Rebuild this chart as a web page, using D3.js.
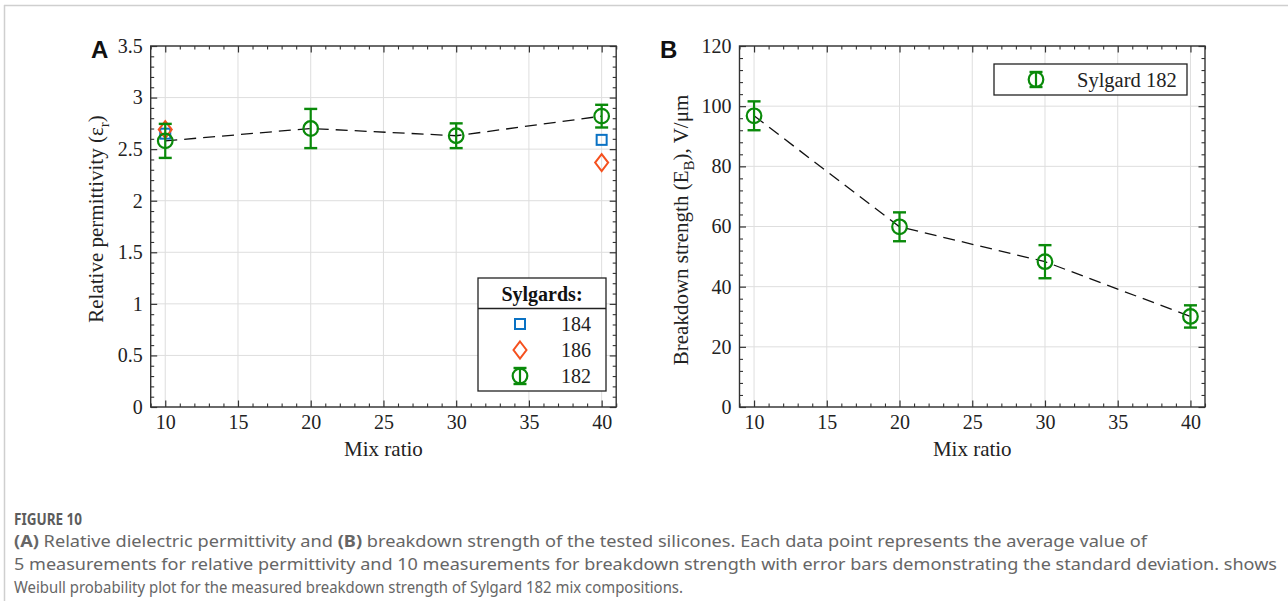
<!DOCTYPE html>
<html>
<head>
<meta charset="utf-8">
<script src="https://cdn.jsdelivr.net/npm/d3@7.9.0/dist/d3.min.js"></script>
<style>
  body { margin: 0; background: #fff; }
  svg { display: block; }
  .tick text { font-family: "Liberation Serif", "Times New Roman", serif; font-size: 20px; fill: #222; }
</style>
</head>
<body>
<svg id="chart" width="1288" height="601"></svg>
<script>
// data
const mixTicks = [10, 15, 20, 25, 30, 35, 40];
const mixRatio = [10, 20, 30, 40];
const perm182 = [2.58, 2.70, 2.63, 2.82];
const perm182Err = [0.165, 0.19, 0.12, 0.11];
const sideRatio = [10, 40];
const perm184 = [2.65, 2.59];
const perm186 = [2.69, 2.37];
const permTicks = [0, 0.5, 1, 1.5, 2, 2.5, 3, 3.5];
const breakdown182 = [96.8, 59.9, 48.3, 30.1];
const breakdown182Err = [4.8, 4.8, 5.5, 3.7];
const breakdownTicks = [0, 20, 40, 60, 80, 100, 120];
const captionLines = [
  [["(A)", true], [" Relative dielectric permittivity and ", false], ["(B)", true], [" breakdown strength of the tested silicones. Each data point represents the average value of", false]],
  [["5 measurements for relative permittivity and 10 measurements for breakdown strength with error bars demonstrating the standard deviation. shows", false]],
  [["Weibull probability plot for the measured breakdown strength of Sylgard 182 mix compositions.", false]]
];

const green = '#0a8a0a', blue = '#0a72c4', orange = '#f5501e';
const serif = '"Liberation Serif", "Times New Roman", serif';
const svg = d3.select('#chart');

// frame of the figure box
svg.append('line').attr('x1', 4).attr('x2', 1288).attr('y1', 5.5).attr('y2', 5.5).attr('stroke', '#cfcfcf').attr('stroke-width', 1.5);
svg.append('line').attr('x1', 4.5).attr('x2', 4.5).attr('y1', 5).attr('y2', 601).attr('stroke', '#cfcfcf').attr('stroke-width', 1.5);

function panel(opt) {
  const g = svg.append('g');
  const x = d3.scaleLinear().domain([9, 41]).range([opt.left, opt.left + 465.5]);
  const y = d3.scaleLinear().domain(opt.yDomain).range([407, 46]);
  const [x0, x1] = x.range();
  const [y0, y1] = y.range();

  // grid
  g.append('g').selectAll('line').data(mixTicks).join('line')
    .attr('x1', d => x(d)).attr('x2', d => x(d)).attr('y1', y0).attr('y2', y1)
    .attr('stroke', '#dedede').attr('stroke-width', 1);
  g.append('g').selectAll('line').data(opt.yTicks).join('line')
    .attr('x1', x0).attr('x2', x1).attr('y1', d => y(d)).attr('y2', d => y(d))
    .attr('stroke', '#dedede').attr('stroke-width', 1);

  // axes, ticks pointing inward on all sides
  const xMinor = d3.range(9, 42, 1).filter(d => !mixTicks.includes(d));
  const yMinor = d3.range(opt.yDomain[0], opt.yDomain[1] + 1e-9, opt.yMinorStep)
    .filter(d => !opt.yTicks.some(t => Math.abs(t - d) < 1e-6));
  const axes = [
    [d3.axisBottom, x, y0, 0, mixTicks, xMinor, true],
    [d3.axisTop, x, y1, 0, mixTicks, xMinor, false],
    [d3.axisLeft, y, 0, x0, opt.yTicks, yMinor, true],
    [d3.axisRight, y, 0, x1, opt.yTicks, yMinor, false]
  ];
  axes.forEach(([fn, sc, ty, tx, major, minor, labels]) => {
    const a = g.append('g').attr('transform', `translate(${tx},${ty})`)
      .call(fn(sc).tickValues(major).tickSize(-6.5).tickPadding(labels ? 8 : 0)
        .tickFormat(labels ? d3.format('') : ''));
    a.select('.domain').remove();
    a.selectAll('.tick line').attr('stroke', '#333').attr('stroke-width', 1.2);
    const m = g.append('g').attr('transform', `translate(${tx},${ty})`)
      .call(fn(sc).tickValues(minor).tickSize(-3.5).tickFormat(''));
    m.select('.domain').remove();
    m.selectAll('.tick line').attr('stroke', '#333').attr('stroke-width', 1.1);
  });
  g.selectAll('.tick text').attr('fill', '#222');

  g.append('rect').attr('x', x0).attr('y', y1).attr('width', x1 - x0).attr('height', y0 - y1)
    .attr('fill', 'none').attr('stroke', '#333').attr('stroke-width', 1.4);

  // axis titles
  g.append('text').attr('x', (x0 + x1) / 2).attr('y', 456).attr('text-anchor', 'middle')
    .attr('font-family', serif).attr('font-size', 21).attr('fill', '#222').text('Mix ratio');
  const yl = g.append('text').attr('transform', `translate(${opt.yLabelX},${opt.yLabelY}) rotate(-90)`)
    .attr('text-anchor', 'middle').attr('font-family', serif).attr('font-size', 21).attr('fill', '#222');
  yl.append('tspan').text(opt.yLabel[0]);
  yl.append('tspan').attr('font-size', 15).attr('dy', 6).text(opt.yLabel[1]);
  yl.append('tspan').attr('dy', -6).text(opt.yLabel[2]);

  // panel letter
  g.append('text').attr('x', opt.letterX).attr('y', 58)
    .attr('font-family', '"Liberation Sans", Arial, sans-serif').attr('font-weight', 'bold')
    .attr('font-size', 24).attr('fill', '#111').text(opt.letter);

  return { g, x, y };
}

function errorMarker(g, cx, cy, top, bottom) {
  g.append('line').attr('x1', cx).attr('x2', cx).attr('y1', top).attr('y2', bottom)
    .attr('stroke', green).attr('stroke-width', 2.2);
  [top, bottom].forEach(v => g.append('line').attr('x1', cx - 6.5).attr('x2', cx + 6.5)
    .attr('y1', v).attr('y2', v).attr('stroke', green).attr('stroke-width', 2.4));
  g.append('circle').attr('cx', cx).attr('cy', cy).attr('r', 7.3)
    .attr('fill', 'none').attr('stroke', green).attr('stroke-width', 2.2);
}

function square(g, cx, cy) {
  g.append('rect').attr('x', cx - 5).attr('y', cy - 5).attr('width', 10).attr('height', 10)
    .attr('fill', 'none').attr('stroke', blue).attr('stroke-width', 2);
}

function diamond(g, cx, cy) {
  g.append('path').attr('d', `M${cx},${cy - 8.5}L${cx + 6.5},${cy}L${cx},${cy + 8.5}L${cx - 6.5},${cy}Z`)
    .attr('fill', 'none').attr('stroke', orange).attr('stroke-width', 2);
}

const dashed = (g, x, y, vals) => g.append('path')
  .attr('d', d3.line().x((d, i) => x(mixRatio[i])).y(d => y(d))(vals))
  .attr('fill', 'none').attr('stroke', '#111').attr('stroke-width', 1.3).attr('stroke-dasharray', '12,7');

// ---- panel A
const A = panel({
  left: 150.7, yDomain: [0, 3.5], yTicks: permTicks, yMinorStep: 0.1,
  yLabel: ['Relative permittivity (\u03b5', 'r', ')'], yLabelX: 103, yLabelY: 219,
  letter: 'A', letterX: 91
});
dashed(A.g, A.x, A.y, perm182);
sideRatio.forEach((r, i) => square(A.g, A.x(r), A.y(perm184[i])));
sideRatio.forEach((r, i) => diamond(A.g, A.x(r), A.y(perm186[i])));
mixRatio.forEach((r, i) => errorMarker(A.g, A.x(r), A.y(perm182[i]),
  A.y(perm182[i] + perm182Err[i]), A.y(perm182[i] - perm182Err[i])));

// legend A
const la = A.g.append('g');
la.append('rect').attr('x', 478).attr('y', 278).attr('width', 128).attr('height', 113)
  .attr('fill', '#fff').attr('stroke', '#222').attr('stroke-width', 1.3);
la.append('line').attr('x1', 478).attr('x2', 606).attr('y1', 308.5).attr('y2', 308.5)
  .attr('stroke', '#222').attr('stroke-width', 1.3);
la.append('text').attr('x', 542).attr('y', 301).attr('text-anchor', 'middle')
  .attr('font-family', serif).attr('font-weight', 'bold').attr('font-size', 20).attr('fill', '#111').text('Sylgards:');
['184', '186', '182'].forEach((t, i) => {
  la.append('text').attr('x', 591).attr('y', 331 + i * 26).attr('text-anchor', 'end')
    .attr('font-family', serif).attr('font-size', 20).attr('fill', '#222').text(t);
});
square(la, 520, 324);
diamond(la, 520, 350);
errorMarker(la, 520, 376, 368, 384);

// ---- panel B
const B = panel({
  left: 739.5, yDomain: [0, 120], yTicks: breakdownTicks, yMinorStep: 4,
  yLabel: ['Breakdown strength (E', 'B', '), V/\u03bcm'], yLabelX: 688, yLabelY: 230,
  letter: 'B', letterX: 660
});
dashed(B.g, B.x, B.y, breakdown182);
mixRatio.forEach((r, i) => errorMarker(B.g, B.x(r), B.y(breakdown182[i]),
  B.y(breakdown182[i] + breakdown182Err[i]), B.y(breakdown182[i] - breakdown182Err[i])));

// legend B
const lb = B.g.append('g');
lb.append('rect').attr('x', 994).attr('y', 64).attr('width', 193).attr('height', 31)
  .attr('fill', '#fff').attr('stroke', '#222').attr('stroke-width', 1.3);
errorMarker(lb, 1036, 79.5, 72, 87);
lb.append('text').attr('x', 1077).attr('y', 86.5).attr('font-family', serif).attr('font-size', 20.5)
  .attr('fill', '#222').text('Sylgard 182');

// ---- caption
const sans = '"Noto Sans", "Open Sans", sans-serif';
svg.append('text').attr('x', 14).attr('y', 525).attr('font-family', sans).attr('font-weight', 'bold')
  .attr('font-size', 16.5).attr('fill', '#5c5c5c').attr('textLength', 68).attr('lengthAdjust', 'spacingAndGlyphs')
  .text('FIGURE 10');
const lineWidths = [1133, 1263, 669];
captionLines.forEach((parts, i) => {
  const t = svg.append('text').attr('x', 14).attr('y', 547 + i * 23).attr('font-family', sans)
    .attr('font-size', 16).attr('fill', '#666')
    .attr('textLength', lineWidths[i]).attr('lengthAdjust', 'spacingAndGlyphs');
  parts.forEach(([s, bold]) => t.append('tspan').attr('font-weight', bold ? 'bold' : null).text(s));
});
</script>
</body>
</html>
